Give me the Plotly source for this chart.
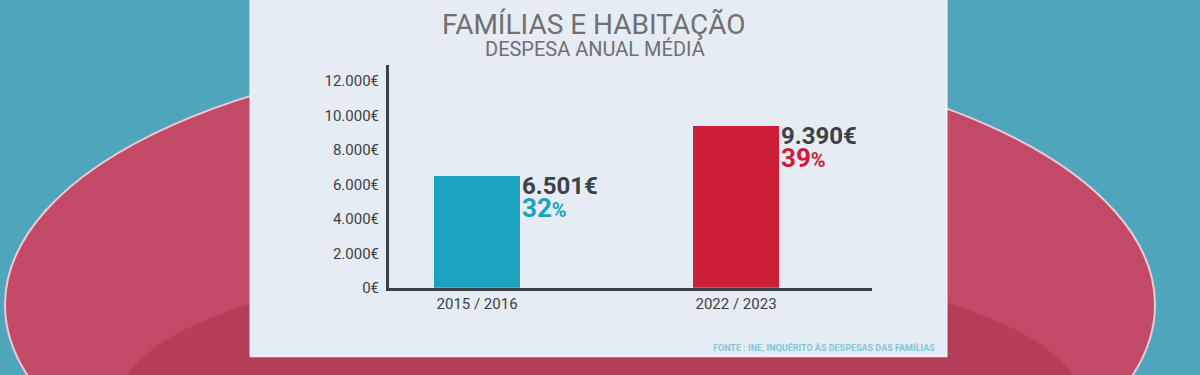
import plotly.graph_objects as go

categories = ["2015 / 2016", "2022 / 2023"]
values = [6501, 9390]
value_labels = ["6.501€", "9.390€"]
shares = [32, 39]
bar_colors = ["#1ba2bf", "#cc1e37"]
y_tickvals = [0, 2000, 4000, 6000, 8000, 10000, 12000]
y_ticktext = ["0€", "2.000€", "4.000€", "6.000€", "8.000€", "10.000€", "12.000€"]

W, H = 1200, 375
K = 1.024  # vertical correction

def px(x):
    return x / W
def py(y):
    return 1 - (y * K) / H

xpos = list(range(len(categories)))
FONT = "Roboto, sans-serif"

fig = go.Figure()
fig.add_trace(go.Bar(x=xpos, y=values, marker=dict(color=bar_colors, line=dict(width=0)),
                     width=0.332, hoverinfo="skip"))

shapes = [
    # big red ellipse
    dict(type="circle", xref="paper", yref="paper", x0=px(5), x1=px(1155), y0=py(560), y1=py(50),
         fillcolor="#c24a66", line=dict(color="#efc9d8", width=2), layer="below"),
    # darker lower zone inside ellipse
    dict(type="circle", xref="paper", yref="paper", x0=px(120), x1=px(1080), y0=py(540), y1=py(260),
         fillcolor="rgba(150,35,55,0.30)", line=dict(width=0), layer="below"),
    # panel
    dict(type="rect", xref="paper", yref="paper", x0=px(250), x1=px(947), y0=py(357), y1=py(-4),
         fillcolor="#e5ecf4", line=dict(color="rgba(255,255,255,0.9)", width=1), layer="below"),
]

annotations = [
    dict(text="FAMÍLIAS E HABITAÇÃO", xref="paper", yref="paper", x=px(594), y=py(25),
         showarrow=False, font=dict(family=FONT, size=28, color="#6f7073"), xanchor="center", yanchor="middle"),
    dict(text="DESPESA ANUAL MÉDIA", xref="paper", yref="paper", x=px(595), y=py(49),
         showarrow=False, font=dict(family=FONT, size=20, color="#6f7073"), xanchor="center", yanchor="middle"),
    dict(text="<b>FONTE : INE, INQUÉRITO ÀS DESPESAS DAS FAMÍLIAS</b>", xref="paper", yref="paper",
         x=px(937), y=py(348), showarrow=False, font=dict(family=FONT, size=9, color="#86c6d6"),
         xanchor="right", yanchor="middle"),
]
for i, (v, lab, s, c) in enumerate(zip(values, value_labels, shares, bar_colors)):
    annotations.append(dict(text="<b>" + lab + "</b>", x=i + 0.166, y=v, xref="x", yref="y",
                            xanchor="left", yanchor="top", showarrow=False, xshift=0, yshift=6,
                            font=dict(family=FONT, size=24, color="#3c4147")))
    annotations.append(dict(text="<b>" + str(s) + "<span style='font-size:20px'>%</span></b>", x=i + 0.166, y=v,
                            xref="x", yref="y", xanchor="left", yanchor="top", showarrow=False,
                            xshift=0, yshift=-15, font=dict(family=FONT, size=26, color=c)))

fig.update_layout(
    width=W, height=H,
    margin=dict(l=0, r=0, t=0, b=0),
    paper_bgcolor="#4fa6bc",
    plot_bgcolor="rgba(0,0,0,0)",
    showlegend=False,
    bargap=0,
    shapes=shapes,
    annotations=annotations,
    xaxis=dict(domain=[px(389), px(872)], range=[-0.34, 1.525], tickvals=xpos, ticktext=categories,
               showgrid=False, zeroline=False, showline=True, linecolor="#3c4147", linewidth=3,
               ticks="", tickfont=dict(family=FONT, size=15, color="#3c4147"), fixedrange=True),
    yaxis=dict(domain=[py(288), py(65)], range=[0, 12930], tickvals=y_tickvals, ticktext=y_ticktext,
               showgrid=False, zeroline=False, showline=True, linecolor="#3c4147", linewidth=3,
               ticks="", ticklabelstandoff=4, tickfont=dict(family=FONT, size=15, color="#3c4147"), fixedrange=True),
)

fig.write_html("out.html", config={"displayModeBar": False},
               post_script="document.body.style.margin='0';document.body.style.overflow='hidden';")
